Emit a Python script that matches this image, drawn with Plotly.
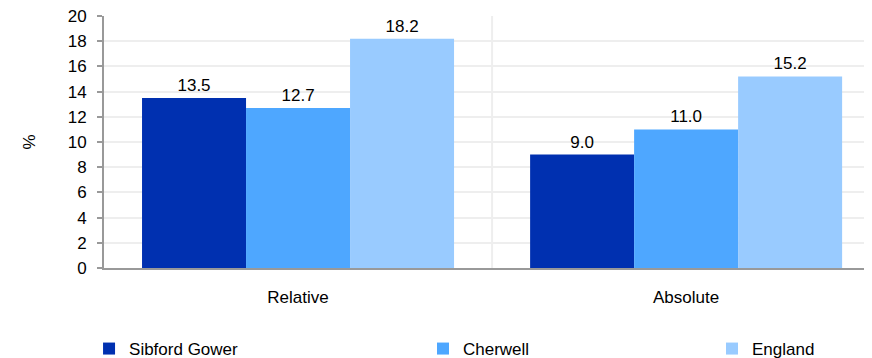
import plotly.graph_objects as go

categories = ["Relative", "Absolute"]
series_names = ["Sibford Gower", "Cherwell", "England"]
sibford = [13.5, 9.0]
cherwell = [12.7, 11.0]
england = [18.2, 15.2]
colors = ["#0030b0", "#4ea7ff", "#99cbff"]
y_ticks = list(range(0, 21, 2))

series_values = [sibford, cherwell, england]
legend_ids = ["legend", "legend2", "legend3"]
legend_x = [0.0938, 0.4803, 0.8148]

FONT = "Liberation Sans, Arial, sans-serif"
FS = 17

fig = go.Figure()
for i, (name, vals) in enumerate(zip(series_names, series_values)):
    fig.add_trace(go.Bar(
        x=categories, y=vals, name=name,
        marker=dict(color=colors[i], line=dict(width=0)),
        texttemplate="%{y:.1f}", textposition="outside",
        textfont=dict(size=FS, color="#000000", family=FONT),
        cliponaxis=False,
        legend=legend_ids[i],
    ))

# category divider
fig.add_shape(type="line", xref="x", yref="y", x0=0.5, x1=0.5, y0=0, y1=20,
              line=dict(color="#eeeeee", width=2), layer="below")

legend_common = dict(orientation="h", yanchor="middle", xanchor="left",
                     xref="container", yref="container",
                     font=dict(size=FS, color="#000000", family=FONT),
                     bgcolor="rgba(0,0,0,0)", itemwidth=30)
layout_legends = {}
for lid, lx in zip(legend_ids, legend_x):
    layout_legends[lid] = dict(legend_common, x=lx, y=0.0257)

fig.update_layout(
    width=864, height=350,
    margin=dict(l=96, r=0, t=8, b=90),
    paper_bgcolor="#ffffff", plot_bgcolor="#ffffff",
    font=dict(family=FONT, size=FS, color="#000000"),
    barmode="group", bargap=0.196, bargroupgap=0,
    showlegend=True,
    **layout_legends,
)
fig.update_xaxes(
    range=[-0.5, 1.479], showgrid=False, showline=True,
    linecolor="#999999", linewidth=2, ticks="",
    tickfont=dict(size=FS, family=FONT, color="#000000"),
    ticklabelstandoff=13, fixedrange=True, automargin=False,
)
fig.update_yaxes(
    range=[0, 20], tickvals=y_ticks, showgrid=True, gridcolor="#eeeeee",
    gridwidth=2, showline=True, linecolor="#999999", linewidth=2,
    ticks="outside", ticklen=5, tickcolor="#999999", tickwidth=2,
    tickfont=dict(size=FS, family=FONT, color="#000000"),
    ticklabelstandoff=7, zeroline=False, automargin=False,
    ticklabeloverflow="allow",
    title=dict(text="%", font=dict(size=FS, family=FONT), standoff=28),
)

fig.write_html("out.html")
